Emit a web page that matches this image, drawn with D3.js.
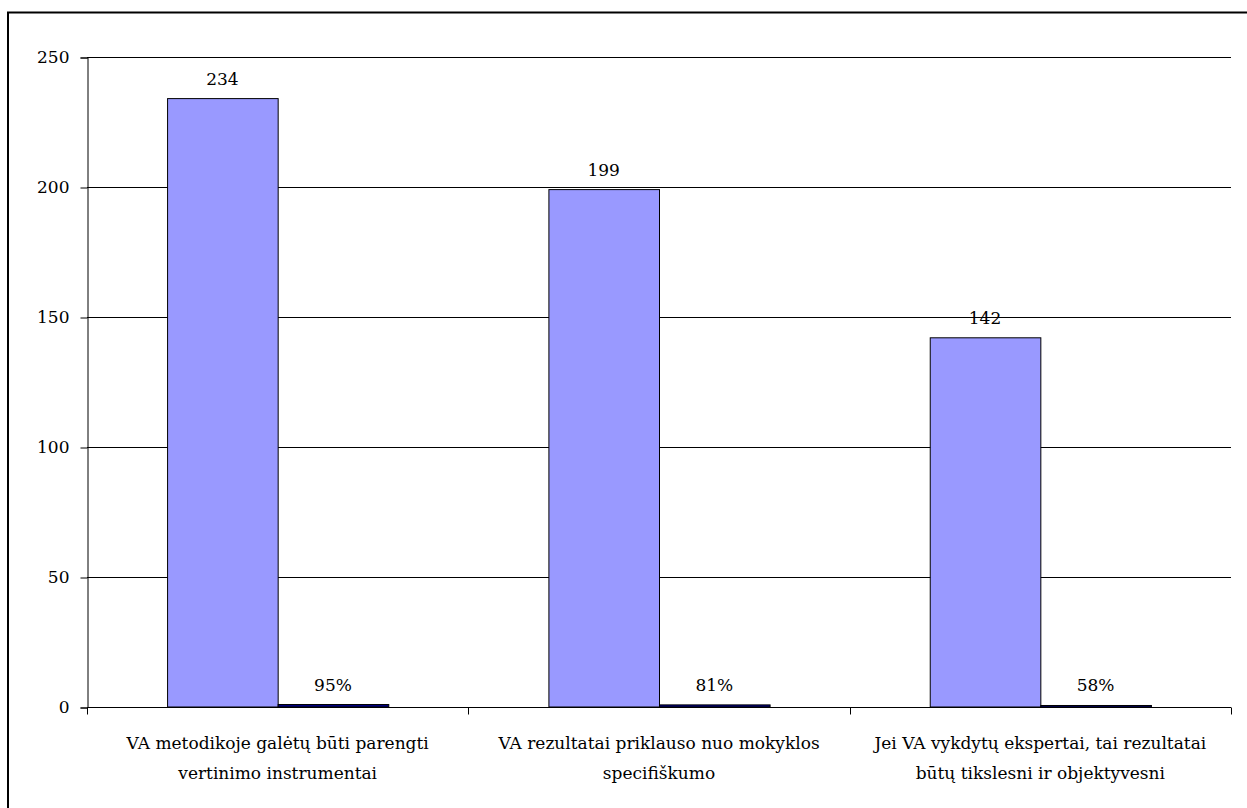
<!DOCTYPE html>
<html>
<head>
<meta charset="utf-8">
<script src="https://cdn.jsdelivr.net/npm/d3@7/dist/d3.min.js"></script>
<style>
  html, body { margin: 0; padding: 0; background: #fff; }
  svg { display: block; }
</style>
</head>
<body>
<svg id="chart" width="1247" height="808"></svg>
<script>
// Survey answers: respondent counts and their share of respondents
const categories = [
  ["VA metodikoje galėtų būti parengti", "vertinimo instrumentai"],
  ["VA rezultatai priklauso nuo mokyklos", "specifiškumo"],
  ["Jei VA vykdytų ekspertai, tai rezultatai", "būtų tikslesni ir objektyvesni"]
];
const counts = [234, 199, 142];
const shares = [0.95, 0.81, 0.58];
const yTicks = [0, 50, 100, 150, 200, 250];

const FONT = "DejaVu Serif, Liberation Serif, Noto Serif, Times New Roman, serif";
const FS = 17;
const svg = d3.select("#chart")
  .attr("font-family", FONT).attr("font-size", FS);
const margin = { left: 87, right: 16, top: 57, bottom: 101 };
const W = 1247, H = 808;

// outer frame (left and top edges of the chart area)
svg.append("path")
  .attr("d", `M8,${H} L8,12.5 L${W},12.5`)
  .attr("fill", "none").attr("stroke", "#000").attr("stroke-width", 2);

const x = d3.scaleBand()
  .domain(d3.range(categories.length))
  .range([margin.left, W - margin.right])
  .paddingInner(0).paddingOuter(0);

const inner = d3.scaleBand()
  .domain(["count", "share"])
  .range([0, x.bandwidth()])
  .paddingOuter(0.724).paddingInner(0);

const y = d3.scaleLinear().domain([0, 250]).range([H - margin.bottom, margin.top]);

// gridlines
svg.append("g").selectAll("line")
  .data(yTicks.filter(d => d > 0))
  .join("line")
  .attr("x1", margin.left).attr("x2", W - margin.right)
  .attr("y1", d => Math.round(y(d)) + 0.5).attr("y2", d => Math.round(y(d)) + 0.5)
  .attr("stroke", "#000").attr("stroke-width", 1);

// y axis
const yAxis = svg.append("g")
  .attr("transform", `translate(${margin.left + 0.5},0.5)`)
  .call(d3.axisLeft(y).tickValues(yTicks).tickSize(7).tickPadding(11));
yAxis.attr("font-family", FONT).attr("font-size", FS);
yAxis.select(".domain").attr("stroke", "#000");
yAxis.selectAll(".tick line").attr("stroke", "#000");
yAxis.selectAll(".tick text").attr("fill", "#000");

// bars: counts
const groups = svg.append("g")
  .selectAll("g")
  .data(categories.map((c, i) => ({ i, count: counts[i], share: shares[i] })))
  .join("g")
  .attr("transform", d => `translate(${x(d.i)},0)`);

groups.append("rect")
  .attr("x", inner("count") + 0.5)
  .attr("y", d => y(d.count))
  .attr("width", inner.bandwidth())
  .attr("height", d => y(0) - y(d.count))
  .attr("fill", "#9999FF").attr("stroke", "#000").attr("stroke-width", 1);

// bars: shares (fractions drawn on the same axis)
groups.append("rect")
  .attr("x", inner("share") + 0.5)
  .attr("y", d => y(d.share))
  .attr("width", inner.bandwidth())
  .attr("height", d => y(0) - y(d.share))
  .attr("fill", "#000080").attr("stroke", "#000").attr("stroke-width", 1);

// value labels
groups.append("text")
  .attr("x", inner("count") + inner.bandwidth() / 2)
  .attr("y", d => y(d.count) - 14)
  .attr("text-anchor", "middle")
  .text(d => d.count);

groups.append("text")
  .attr("x", inner("share") + inner.bandwidth() / 2)
  .attr("y", d => y(d.share) - 14)
  .attr("text-anchor", "middle")
  .text(d => d3.format(".0%")(d.share));

// x axis
const xAxis = svg.append("g")
  .attr("transform", `translate(0,${Math.round(y(0)) + 0.5})`);
xAxis.append("line")
  .attr("x1", margin.left).attr("x2", W - margin.right)
  .attr("stroke", "#000");
xAxis.selectAll("line.tick")
  .data(d3.range(categories.length + 1))
  .join("line").attr("class", "tick")
  .attr("x1", i => Math.round(margin.left + i * x.step()) + 0.5)
  .attr("x2", i => Math.round(margin.left + i * x.step()) + 0.5)
  .attr("y1", 0).attr("y2", 7)
  .attr("stroke", "#000");

const labels = xAxis.selectAll("text.cat")
  .data(categories.map((c, i) => ({ c, i })))
  .join("text").attr("class", "cat")
  .attr("text-anchor", "middle")
  .attr("transform", d => `translate(${x(d.i) + x.bandwidth() / 2},0)`);
labels.selectAll("tspan")
  .data(d => d.c)
  .join("tspan")
  .attr("x", 0)
  .attr("y", (d, j) => 41 + j * 30)
  .text(d => d);
</script>
</body>
</html>
